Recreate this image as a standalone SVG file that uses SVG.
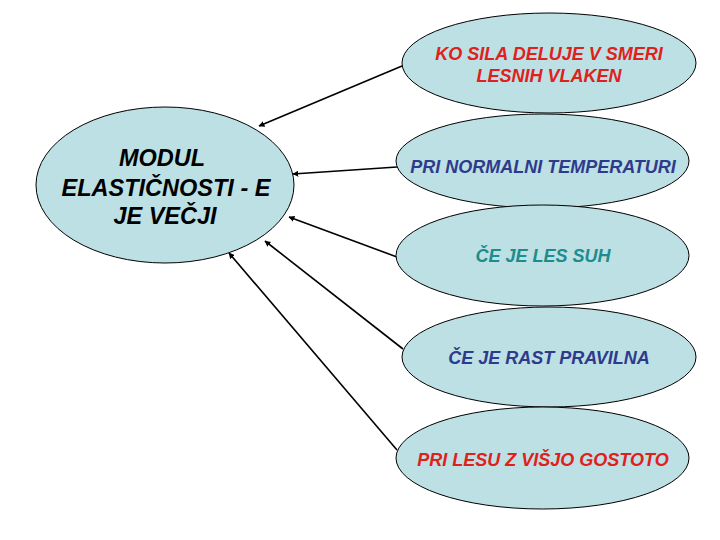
<svg xmlns="http://www.w3.org/2000/svg" width="720" height="540" viewBox="0 0 720 540">
<defs>
<style>
.n{fill:#BCE0E3;stroke:#000;stroke-width:1}
.t{font-family:"Liberation Sans",Arial,sans-serif;font-weight:bold;font-style:italic;text-anchor:middle}
.big{font-size:23.5px;fill:#000}
.sm{font-size:18px}
.red{fill:#E0201C}
.blue{fill:#2E3A8C}
.teal{fill:#1E8C8C}
.c{stroke:#000;stroke-width:1.6;fill:none;marker-end:url(#ah)}
</style>
<marker id="ah" viewBox="0 0 10 10" refX="9" refY="5" markerWidth="6" markerHeight="6" orient="auto" markerUnits="userSpaceOnUse">
<path d="M0,0 L10,5 L0,10 z" fill="#000"/>
</marker>
</defs>
<rect width="720" height="540" fill="#fff"/>
<g id="connectors">
<line class="c" x1="402" y1="66" x2="259" y2="126"/>
<line class="c" x1="397" y1="167" x2="293" y2="174"/>
<line class="c" x1="397" y1="257" x2="289" y2="217"/>
<line class="c" x1="403" y1="349" x2="265" y2="241"/>
<line class="c" x1="397" y1="450" x2="229" y2="253"/>
</g>
<g id="main">
<ellipse class="n" cx="165" cy="185" rx="129" ry="78"/>
<text class="t big" x="162" y="166">MODUL</text>
<text class="t big" x="166" y="196">ELASTIČNOSTI - E</text>
<text class="t big" x="165" y="224">JE VEČJI</text>
</g>
<g id="n1">
<ellipse class="n" cx="549" cy="63" rx="147" ry="50"/>
<text class="t sm red" x="549" y="60">KO SILA DELUJE V SMERI</text>
<text class="t sm red" x="549" y="82">LESNIH VLAKEN</text>
</g>
<g id="n2">
<ellipse class="n" cx="542.5" cy="161" rx="146.5" ry="47"/>
<text class="t sm blue" x="543" y="173">PRI NORMALNI TEMPERATURI</text>
</g>
<g id="n3">
<ellipse class="n" cx="542.5" cy="255.5" rx="146.5" ry="50.5"/>
<text class="t sm teal" x="543" y="262">ČE JE LES SUH</text>
</g>
<g id="n4">
<ellipse class="n" cx="549" cy="357" rx="147" ry="50"/>
<text class="t sm blue" x="549" y="364">ČE JE RAST PRAVILNA</text>
</g>
<g id="n5">
<ellipse class="n" cx="542.5" cy="458" rx="146.5" ry="51"/>
<text class="t sm red" x="543" y="466">PRI LESU Z VIŠJO GOSTOTO</text>
</g>
</svg>
